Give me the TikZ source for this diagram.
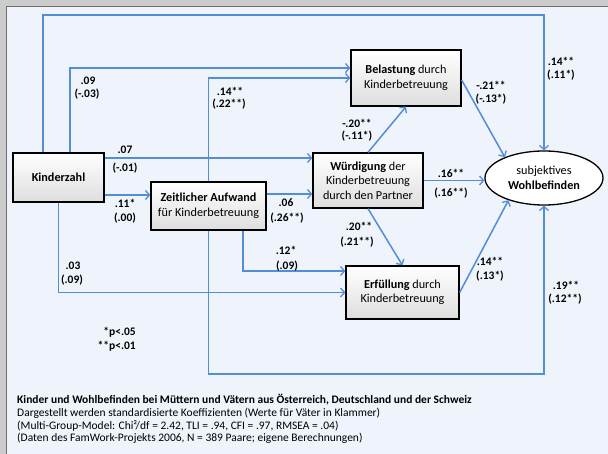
\documentclass[tikz,border=0pt]{standalone}
\usepackage{fontspec}
\setmainfont{Carlito}
\usetikzlibrary{arrows.meta,shapes.geometric,calc}
\definecolor{lineblue}{RGB}{83,141,213}
\definecolor{panel}{RGB}{239,243,251}
\definecolor{outergray}{RGB}{204,204,204}
\definecolor{bordergray}{RGB}{110,110,110}
\begin{document}
\begin{tikzpicture}[x=1pt,y=-1pt,
  box/.style={draw=black,line width=1.3pt,top color=white,bottom color=black!13,align=center,
    font=\fontsize{12.2}{14.5}\selectfont,inner sep=0pt},
  conn/.style={draw=lineblue,line width=1.5pt,-{Straight Barb[length=4pt,width=9pt,line width=1.3pt]}},
  lab/.style={font=\fontsize{11.5}{13}\selectfont\bfseries,inner sep=0pt},
  captext/.style={font=\fontsize{11.5}{13}\selectfont,inner sep=0pt,anchor=base west}]
\useasboundingbox (0,0) rectangle (608,454);
\fill[outergray] (0,0) rectangle (608,454);
\fill[panel] (7,7) rectangle (608,454);
\draw[bordergray,line width=1.2pt] (6.5,454) -- (6.5,6.5) -- (608,6.5);

% nodes
\node[box,minimum width=91pt,minimum height=49pt,font=\fontsize{12.2}{14.5}\selectfont\bfseries] (kz) at (58.5,177.5) {Kinderzahl};
\node[box,minimum width=115pt,minimum height=48pt] (za) at (208.5,206) {\textbf{Zeitlicher Aufwand}\\für Kinderbetreuung};
\node[box,minimum width=110pt,minimum height=56pt] (bel) at (406,78) {\textbf{Belastung} durch\\Kinderbetreuung};
\node[box,minimum width=110pt,minimum height=55pt] (wue) at (368,180.5) {\textbf{Würdigung} der\\Kinderbetreuung\\durch den Partner};
\node[box,minimum width=113pt,minimum height=53pt] (erf) at (402.5,292.5) {\textbf{Erfüllung} durch\\Kinderbetreuung};
\node[ellipse,draw=black,line width=1.3pt,fill=white,minimum width=118pt,minimum height=54pt,inner sep=0pt,align=center,
  font=\fontsize{12.2}{14.5}\selectfont] (wb) at (544,178) {subjektives\\\textbf{Wohlbefinden}};

% helper coordinates
\coordinate (yTop) at (0,15);
\coordinate (yBot) at (0,374);
\coordinate (k1) at ([yshift=19.5pt]kz.east);
\coordinate (k2) at ([yshift=-17.5pt]kz.east);
\coordinate (z1) at ([yshift=12pt]za.east);

% connectors
\draw[conn] ([xshift=-15.5pt]kz.north) |- (wb.north |- yTop) -- (wb.north);
\draw[conn] ([xshift=11.5pt]kz.north) |- ([yshift=10pt]bel.west);
\draw[conn] (za.north) |- (bel.west);
\draw[conn] (k1) -- (k1 -| wue.west);
\draw[conn] (k2) -- (k2 -| za.west);
\draw[conn] (kz.south) |- (erf.west);
\draw[conn] (za.south) |- (wb.south |- yBot) -- (wb.south);
\draw[conn] (z1) -- (z1 -| wue.west);
\draw[conn] ([xshift=34.5pt]za.south) |- ([yshift=21.5pt]erf.west);
\draw[conn] (wue.north) -- (bel.south);
\draw[conn] (wue.south) -- (erf.north);
\draw[conn] ([yshift=-2pt]bel.east) -- (wb.152);
\draw[conn] (wue.east) -- (wue.east -| wb.west);
\draw[conn] (erf.east) -- (wb.212);

% labels
\node[lab] (l1a) at (561,61) {.14**};
\node[lab] (l1b) at (561,75) {(.11*)};
\node[lab] (l2a) at (88,81) {.09};
\node[lab] (l2b) at (87,94) {(-.03)};
\node[lab] (l3a) at (230,91) {.14**};
\node[lab] (l3b) at (229,104) {(.22**)};
\node[lab] (l4a) at (125,150) {.07};
\node[lab] (l4b) at (125,168) {(-.01)};
\node[lab] (l5a) at (125,203) {.11*};
\node[lab] (l5b) at (125,218) {(.00)};
\node[lab] (l6a) at (286,203) {.06};
\node[lab] (l6b) at (287,218) {(.26**)};
\node[lab] (l7a) at (286,250) {.12*};
\node[lab] (l7b) at (287,266) {(.09)};
\node[lab] (l8a) at (73,266) {.03};
\node[lab] (l8b) at (72,280) {(.09)};
\node[lab] (l9a) at (357,123) {-.20**};
\node[lab] (l9b) at (357,136) {(-.11*)};
\node[lab] (l10a) at (359,226) {.20**};
\node[lab] (l10b) at (357,242) {(.21**)};
\node[lab] (l11a) at (491,85) {-.21**};
\node[lab] (l11b) at (491,99) {(-.13*)};
\node[lab] (l12a) at (451,173) {.16**};
\node[lab] (l12b) at (451,193) {(.16**)};
\node[lab] (l13a) at (490,261) {.14**};
\node[lab] (l13b) at (490,276) {(.13*)};
\node[lab] (l14a) at (566,285) {.19**};
\node[lab] (l14b) at (565,299) {(.12**)};
\node[lab,anchor=east] (p1) at (136,332) {*p<.05};
\node[lab,anchor=east] (p2) at (136,346) {**p<.01};

% caption
\node[captext,font=\fontsize{11.5}{13}\selectfont\bfseries] (c1) at (17,403) {Kinder und Wohlbefinden bei Müttern und Vätern aus Österreich, Deutschland und der Schweiz};
\node[captext] (c2) at (17,416.5) {Dargestellt werden standardisierte Koeffizienten (Werte für Väter in Klammer)};
\node[captext] (c3) at (17,429) {(Multi-Group-Model: Chi²/df = 2.42, TLI = .94, CFI = .97, RMSEA = .04)};
\node[captext] (c4) at (17,441.5) {(Daten des FamWork-Projekts 2006, N = 389 Paare; eigene Berechnungen)};
\end{tikzpicture}
\end{document}
